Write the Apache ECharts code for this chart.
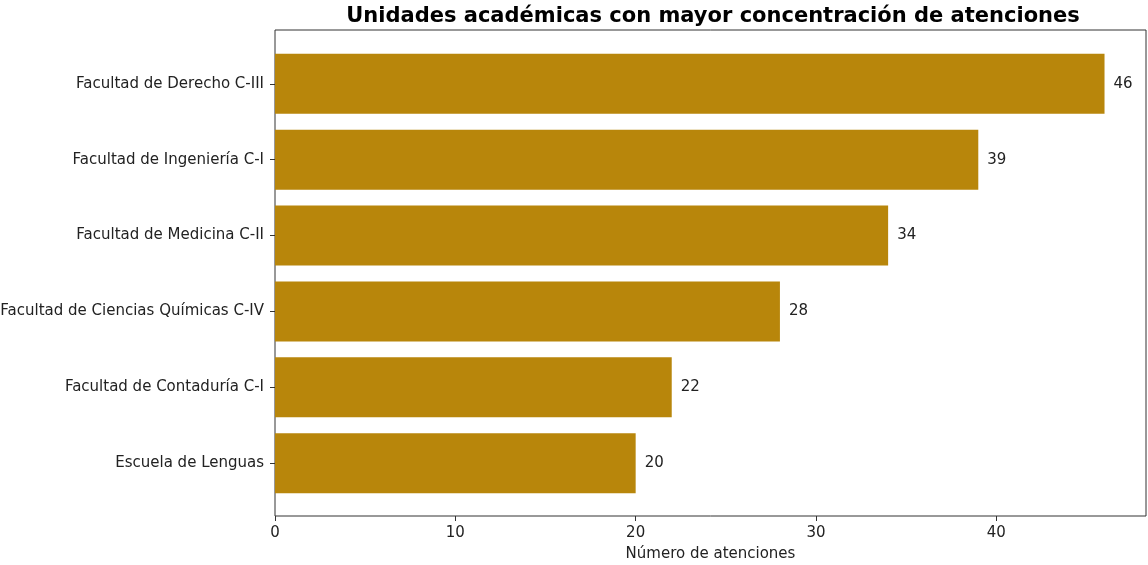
<!DOCTYPE html>
<html><head><meta charset="utf-8">
<script src="https://cdn.jsdelivr.net/npm/echarts@6/dist/echarts.min.js"></script>
<style>html,body{margin:0;padding:0;background:#fff}#c{width:1148px;height:565px}</style>
</head><body><div id="c"></div>
<script>
const categories = ["Facultad de Derecho C-III","Facultad de Ingeniería C-I","Facultad de Medicina C-II","Facultad de Ciencias Químicas C-IV","Facultad de Contaduría C-I","Escuela de Lenguas"];
const values = [46, 39, 34, 28, 22, 20];
const xTicks = [0, 10, 20, 30, 40];
const titleText = "Unidades académicas con mayor concentración de atenciones";
const xName = "Número de atenciones";

const FONT = "DejaVu Sans";
const XMAX = 48.3;
const chart = echarts.init(document.getElementById('c'));
chart.setOption({
  animation: false,
  textStyle: {fontFamily: FONT},
  title: {text: titleText, left: 708, top: 1, textAlign: 'center',
    textStyle: {fontFamily: FONT, fontSize: 21, fontWeight: 'bold', color: '#000'}},
  grid: [
    {left: 275, right: 2, top: 45.9, height: 455.2, show: false, containLabel: false, outerBoundsMode: 'none'},
    {left: 275, right: 2, top: 30, bottom: 49, show: true, borderColor: '#333', borderWidth: 1, backgroundColor: 'transparent', containLabel: false, outerBoundsMode: 'none'}
  ],
  xAxis: [
    {gridIndex: 0, type: 'value', min: 0, max: XMAX, show: false},
    {gridIndex: 1, type: 'value', min: 0, max: XMAX, interval: 10,
      axisLine: {show: false}, splitLine: {show: false},
      axisTick: {show: true, length: 5, lineStyle: {color: '#333'}, customValues: xTicks},
      axisLabel: {fontFamily: FONT, fontSize: 15, color: '#222', margin: 10,
        formatter: v => (xTicks.indexOf(v) >= 0 ? String(v) : '')},
      name: xName, nameLocation: 'middle', nameGap: 31,
      nameTextStyle: {fontFamily: FONT, fontSize: 15, color: '#222'}}
  ],
  yAxis: [
    {gridIndex: 0, type: 'category', data: categories, inverse: true,
      axisLine: {show: false},
      axisTick: {show: true, alignWithLabel: true, length: 5, lineStyle: {color: '#333'}},
      axisLabel: {fontFamily: FONT, fontSize: 15, color: '#222', margin: 11},
      splitLine: {show: false}},
    {gridIndex: 1, type: 'value', show: false, min: 0, max: 1}
  ],
  series: [{
    type: 'bar', xAxisIndex: 0, yAxisIndex: 0, data: values, barWidth: 60,
    itemStyle: {color: '#B8860B'},
    label: {show: true, position: 'right', distance: 9, fontFamily: FONT, fontSize: 15, color: '#222'}
  }]
});
</script></body></html>
